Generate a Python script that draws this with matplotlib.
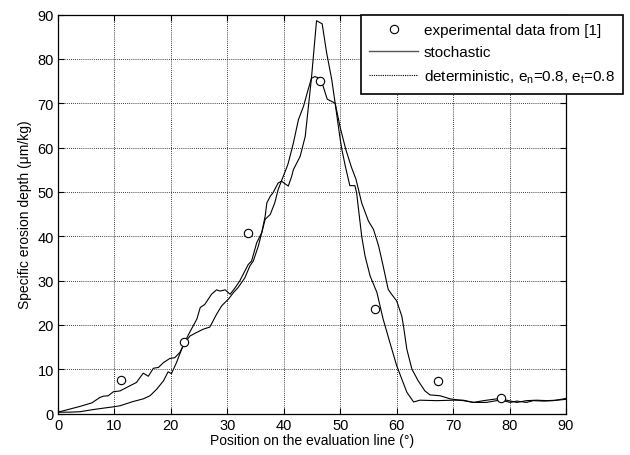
import matplotlib
matplotlib.use("Agg")
import matplotlib.pyplot as plt
from matplotlib.lines import Line2D

plt.rcParams["font.family"] = ["Liberation Sans", "DejaVu Sans"]
plt.rcParams["mathtext.default"] = "regular"

# experimental points
exp_x = [11.2, 22.4, 33.7, 46.4, 56.2, 67.4, 78.5]
exp_y = [7.6, 16.2, 40.8, 75.0, 23.6, 7.4, 3.4]

# stochastic (broad peak)
sto_x = [0, 2.1, 3.9, 6.0, 7.4, 8.0, 8.9, 9.8, 11.0, 12.2, 13.9, 15.1, 16.0,
         16.9, 17.8, 18.7, 19.8, 20.7, 21.6, 22.5, 23.4, 24.6, 25.7, 26.9,
         28.1, 29.0, 30.2, 31.1, 31.9, 32.5, 33.1, 34.0, 34.6, 35.5, 36.1,
         36.7, 37.6, 38.4, 39.0, 39.9, 40.5, 40.8, 41.7, 42.6, 43.5, 44.3,
         44.9, 45.5, 46.4, 46.7, 47.7, 49.1, 50.0, 51.0, 52.0, 52.8, 53.8,
         55.0, 55.9, 56.8, 57.6, 58.5, 59.1, 60.0, 60.9, 61.2, 61.8, 62.7,
         63.8, 65.0, 65.9, 67.7, 69.5, 71.8, 73.6, 75.9, 77.7, 79.5, 81.3,
         83.0, 84.8, 86.6, 88.4, 90.0]
sto_y = [0.3, 1.0, 1.6, 2.4, 3.6, 3.9, 4.0, 4.9, 5.1, 5.9, 7.0, 9.1, 8.4,
         10.2, 10.4, 11.5, 12.4, 12.6, 13.8, 16.0, 17.5, 18.3, 19.0, 19.5,
         22.4, 24.3, 25.8, 27.3, 28.4, 29.5, 30.6, 33.3, 34.4, 37.8, 40.8,
         43.8, 44.9, 47.5, 50.5, 53.5, 55.4, 56.5, 61.0, 66.3, 69.3, 73.0,
         75.6, 76.0, 75.6, 74.9, 70.9, 70.0, 64.5, 59.5, 55.5, 52.8, 47.5,
         43.4, 41.5, 37.8, 33.3, 28.0, 26.9, 25.4, 22.0, 19.8, 14.5, 10.0,
         7.4, 5.1, 4.2, 4.0, 3.3, 2.9, 2.5, 2.5, 2.9, 3.0, 2.5,
         2.9, 3.0, 2.9, 3.0, 3.2]

# deterministic (sharp peak)
det_x = [0, 2.0, 3.9, 6.3, 8.0, 9.8, 11.0, 13.3, 15.1, 16.3, 17.5, 18.7,
         19.5, 20.1, 21.0, 21.9, 22.5, 23.2, 24.6, 25.2, 26.0, 27.2, 28.1,
         28.7, 29.6, 30.5, 31.4, 32.2, 33.7, 34.3, 35.2, 36.1, 36.7, 37.0,
         37.6, 38.1, 39.0, 39.6, 40.8, 41.4, 41.7, 42.3, 42.9, 43.2, 43.8,
         44.3, 44.9, 45.8, 46.8, 47.6, 48.5, 49.1, 50.0, 50.3, 50.9, 51.7,
         52.6, 52.9, 53.8, 54.4, 55.3, 56.5, 57.6, 58.8, 60.0, 60.9, 61.8,
         63.0, 64.1, 67.1, 70.0, 71.8, 73.6, 75.4, 77.7, 80.1, 81.3, 83.0,
         84.2, 86.0, 87.8, 90.0]
det_y = [0.3, 0.3, 0.4, 0.9, 1.2, 1.5, 1.75, 2.7, 3.3, 4.0, 5.5, 7.4,
         9.4, 9.0, 11.5, 14.5, 16.2, 18.0, 21.3, 23.9, 24.6, 26.9, 27.9,
         27.6, 27.9, 26.9, 28.4, 29.9, 33.6, 34.4, 38.5, 40.8, 44.5, 47.5,
         49.0, 49.8, 52.0, 52.4, 51.3, 53.5, 55.0, 56.5, 58.0, 59.5, 62.5,
         68.5, 75.6, 88.6, 87.9, 81.3, 75.3, 70.0, 61.8, 59.5, 55.8, 51.4,
         51.4, 49.8, 40.0, 35.5, 31.0, 27.3, 21.3, 16.0, 10.8, 7.8, 4.8,
         2.6, 3.0, 2.9, 3.0, 3.0, 2.5, 2.9, 3.3, 2.5, 2.8, 2.5,
         2.9, 2.8, 2.9, 3.4]

ticks = list(range(0, 91, 10))

fig = plt.figure(figsize=(6.3, 4.56), dpi=100)
ax = fig.add_axes([58 / 630, 1 - 414.5 / 456, 508 / 630, 399 / 456])

ax.plot(sto_x, sto_y, color="black", linewidth=0.8)
ax.plot(det_x, det_y, color="black", linewidth=0.8)
ax.plot(exp_x, exp_y, linestyle="none", marker="o", markersize=6,
        markerfacecolor="white", markeredgecolor="black",
        markeredgewidth=0.8)

ax.set_xlim(0, 90)
ax.set_ylim(0, 90)
ax.set_xticks(ticks)
ax.set_yticks(ticks)
ax.tick_params(direction="in", length=4, width=0.8, labelsize=10.5,
               top=True, right=True, colors="black", pad=3)
ax.grid(True, color="black", linestyle=(0, (1, 1.5)), linewidth=0.6)
for side in ["left", "bottom", "right", "top"]:
    ax.spines[side].set_linewidth(0.9)
    ax.spines[side].set_color("black")

ax.set_xlabel("Position on the evaluation line (°)", fontsize=10, labelpad=1)
ax.set_ylabel("Specific erosion depth (μm/kg)", fontsize=10, labelpad=4)

handles = [
    Line2D([], [], linestyle="none", marker="o", markersize=6,
           markerfacecolor="white", markeredgecolor="black",
           markeredgewidth=0.8),
    Line2D([], [], color="#555555", linewidth=1.0),
    Line2D([], [], color="black", linewidth=0.8, linestyle=(0, (1, 1))),
]
labels = [
    "experimental data from [1]",
    "stochastic",
    "deterministic, e$_{n}$=0.8, e$_{t}$=0.8",
]
leg = fig.legend(handles, labels, loc="upper left",
                 bbox_to_anchor=(361 / 630, 1 - 15.5 / 456),
                 fontsize=11, frameon=True, fancybox=False,
                 handlelength=3.2, handletextpad=0.35,
                 labelspacing=0.55, borderpad=0.55, borderaxespad=0)
leg.get_frame().set_edgecolor("black")
leg.get_frame().set_linewidth(1.2)
leg.get_frame().set_alpha(1)

fig.savefig("out.png", dpi=100)
